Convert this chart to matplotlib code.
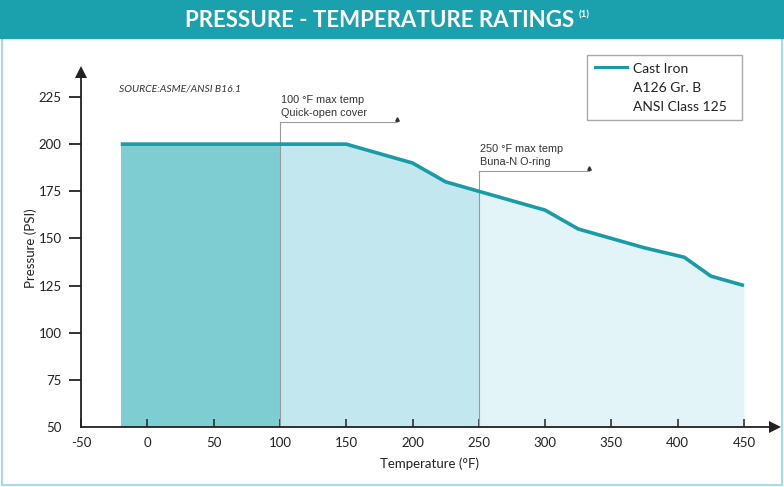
import matplotlib.pyplot as plt
import matplotlib.transforms as mtransforms
from matplotlib.patches import Rectangle
from matplotlib.lines import Line2D
import numpy as np

# data
temps = [-20, 150, 200, 225, 300, 325, 375, 405, 425, 450]
pressures = [200, 200, 190, 180, 165, 155, 145, 140, 130, 125]
x_ticks = [-50, 0, 50, 100, 150, 200, 250, 300, 350, 400, 450]
y_ticks = [50, 75, 100, 125, 150, 175, 200, 225]
zone_edges = [-20, 100, 250, 450]
zone_colors = ['#7ecdd3', '#c3e7ef', '#e3f4f8']
notes = ['100 °F max temp\nQuick-open cover', '250 °F max temp\nBuna-N O-ring']
note_x = [100, 250]
note_y = [212, 186]
note_end = [188, 333]
legend_lines = ['Cast Iron', 'A126 Gr. B', 'ANSI Class 125']

teal = '#1ba0ad'
line_col = '#1a9ba6'
axis_col = '#222222'
font = ['Lato', 'DejaVu Sans']

fig = plt.figure(figsize=(7.84, 4.87), dpi=100)

# outer border and title band
fig.patches.append(Rectangle((0.003, 0.005), 0.994, 0.99, transform=fig.transFigure,
                             fill=False, edgecolor='#a8dde2', lw=1.5))
fig.patches.append(Rectangle((0.0, 0.922), 1.0, 0.078, transform=fig.transFigure,
                             color=teal))
fig.text(0.484, 0.958, 'PRESSURE - TEMPERATURE RATINGS', ha='center', va='center',
         color='white', fontsize=16, fontweight='bold', family=font)
fig.text(0.738, 0.97, '(1)', ha='left', va='center', color='white',
         fontsize=7, fontweight='bold', family=font)

ax = fig.add_axes([0.1033, 0.1232, 0.888, 0.7357])
ax.set_xlim(-50, 475)
ax.set_ylim(50, 240)

t = np.array(temps, dtype=float)
p = np.array(pressures, dtype=float)
for i in range(3):
    a, b = zone_edges[i], zone_edges[i + 1]
    xs = np.concatenate([[a], t[(t > a) & (t < b)], [b]])
    ys = np.interp(xs, t, p)
    ax.fill_between(xs, 50, ys, color=zone_colors[i], lw=0, zorder=1)

ax.plot(temps, pressures, color=line_col, lw=2.6, zorder=4, solid_capstyle='butt')

# annotation markers
for i in range(2):
    ax.plot([note_x[i], note_x[i]], [50, note_y[i]], color='#9a9a9a', lw=0.8, zorder=3)
    ax.plot([note_x[i], note_end[i]], [note_y[i], note_y[i]], color='#9a9a9a', lw=0.8, zorder=3)
    ax.plot(note_end[i], note_y[i] + 1.2, marker='^', ms=2.5, color='#333333', zorder=3)
    ax.text(note_x[i] + 1, note_y[i] + 2, notes[i], ha='left', va='bottom',
            fontsize=7.8, color='#333333', family=['Liberation Sans'], linespacing=1.3)

ax.text(-21, 229, 'SOURCE:ASME/ANSI B16.1', fontsize=7.5, style='italic',
        color='#333333', family=font, ha='left', va='center')

# axis lines with arrow heads at the ends of the limits
for s in ax.spines.values():
    s.set_visible(False)
x0, x1 = ax.get_xlim()
y0, y1 = ax.get_ylim()
ax.plot([x0, x0], [y0, y1 - 3], color=axis_col, lw=1.3, clip_on=False, zorder=6)
ax.plot([x0, x1 - 3], [y0, y0], color=axis_col, lw=1.3, clip_on=False, zorder=6)
ax.plot(x0, y1 - 2, marker='^', ms=9, color=axis_col, clip_on=False, zorder=6, mew=0)
ax.plot(x1 - 2, y0, marker='>', ms=9, color=axis_col, clip_on=False, zorder=6, mew=0)

# y tick marks drawn by hand, left of the axis
ytrans = mtransforms.blended_transform_factory(ax.transAxes, ax.transData)
for yv in y_ticks[1:]:
    ax.plot([-0.017, 0], [yv, yv], transform=ytrans, color=axis_col, lw=1.3,
            clip_on=False, zorder=6, solid_capstyle='butt')

ax.set_xticks(x_ticks)
ax.set_yticks(y_ticks)
ax.tick_params(axis='x', direction='in', length=6, width=1.1, color=axis_col, pad=7)
ax.tick_params(axis='y', length=0, pad=14)
ax.set_xticklabels([str(v) for v in x_ticks], fontsize=9.5, family=font, color=axis_col)
ax.set_yticklabels([str(v) for v in y_ticks], fontsize=9.5, family=font, color=axis_col)
ax.set_xlabel('Temperature (°F)', fontsize=9.5, family=font, color=axis_col, labelpad=6)
ax.set_ylabel('Pressure (PSI)', fontsize=9.5, family=font, color=axis_col, labelpad=1)

# legend box
fig.patches.append(Rectangle((0.749, 0.754), 0.198, 0.133, transform=fig.transFigure,
                             fill=False, edgecolor='#aaaaaa', lw=1))
fig.lines.append(Line2D([0.759, 0.8], [0.862, 0.862], transform=fig.transFigure,
                        color=line_col, lw=2.2))
for i, txt in enumerate(legend_lines):
    fig.text(0.807, 0.858 - i * 0.039, txt, ha='left', va='center', fontsize=10,
             family=font, color=axis_col)

fig.savefig('out.png', dpi=100)
